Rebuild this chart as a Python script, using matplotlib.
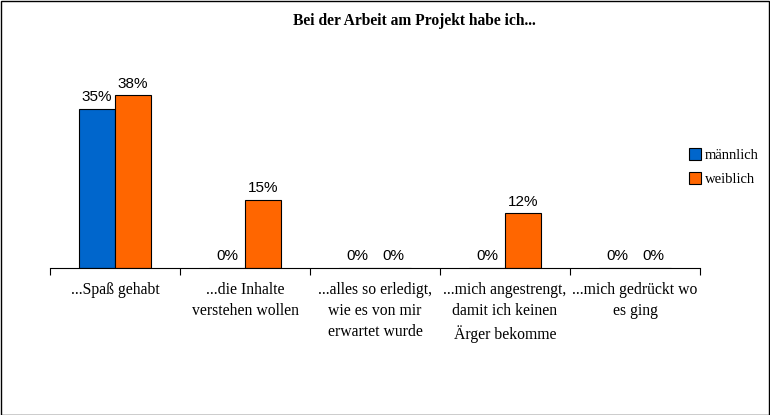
import matplotlib
matplotlib.use("Agg")
import matplotlib.pyplot as plt
from matplotlib.patches import Rectangle
import numpy as np

categories = ["...Spaß gehabt", "...die Inhalte\nverstehen wollen",
              "...alles so erledigt,\nwie es von mir\nerwartet wurde",
              "...mich angestrengt,\ndamit ich keinen\nÄrger bekomme",
              "...mich gedrückt wo\nes ging"]
maennlich = [35, 0, 0, 0, 0]
weiblich = [38, 15, 0, 12, 0]
series_names = ["männlich", "weiblich"]
title = "Bei der Arbeit am Projekt habe ich..."

plt.rcParams['font.family'] = ['Liberation Serif', 'DejaVu Serif']

fig = plt.figure(figsize=(7.7, 4.15), dpi=100)
ax = fig.add_axes([50/770, (415-268)/415, 650/770, (268-86)/415])

x = np.arange(len(categories))
w = 0.277
colors = ["#0066CC", "#FF6600"]
for i, (vals, c, name) in enumerate(zip([maennlich, weiblich], colors, series_names)):
    pos = x + (i - 0.5) * w
    ax.bar(pos, vals, width=w, color=c, edgecolor="black", linewidth=0.8, label=name)
    for p, v in zip(pos, vals):
        ax.text(p, v + 1.0, f"{v}%", ha="center", va="bottom", fontsize=11,
                family=["Liberation Sans", "DejaVu Sans"])

ax.set_xlim(-0.5, len(categories) - 0.5)
ax.set_ylim(0, 40)
ax.set_yticks([])
for s in ["top", "right", "left"]:
    ax.spines[s].set_visible(False)
ax.spines["bottom"].set_linewidth(0.8)
ax.set_xticks(x)
ax.set_xticklabels(categories, fontsize=11.3, linespacing=1.42)
ax.tick_params(axis="x", which="major", length=0, pad=10)
ax.set_xticks(np.arange(-0.5, len(categories), 1.0), minor=True)
ax.tick_params(axis="x", which="minor", length=5, width=0.8, direction="out")

fig.text(414/770, 1 - 21/415, title, ha="center", va="center", fontsize=11.2, fontweight="bold")

leg = fig.legend(loc="center left", bbox_to_anchor=(683/770, 1 - 167/415), frameon=False,
                 fontsize=10.5, handlelength=0.85, handleheight=0.85, handletextpad=0.25,
                 labelspacing=0.7, borderaxespad=0)
for h in leg.legend_handles:
    h.set_edgecolor("black")

fig.patches.append(Rectangle((0.5/770, 0.5/415), 768/770, 413/415, transform=fig.transFigure,
                             fill=False, edgecolor="black", linewidth=1.0))

fig.savefig("out.png", dpi=100)
